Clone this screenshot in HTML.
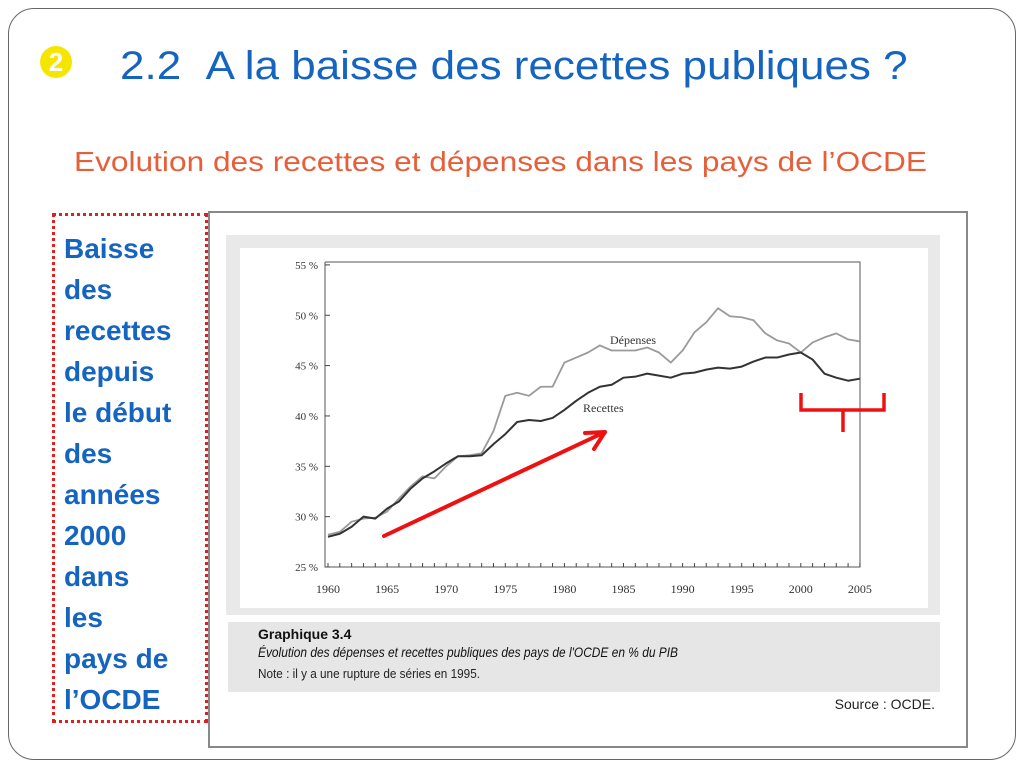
<!DOCTYPE html>
<html><head><meta charset="utf-8"><style>
body{margin:0;width:1024px;height:768px;background:#fff;font-family:"Liberation Sans",sans-serif;overflow:hidden;position:relative}
.abs{position:absolute}
</style></head><body>
<div class="abs" style="left:8px;top:8px;width:1006px;height:750px;border:1px solid #666;border-radius:26px"></div>
<div class="abs" style="left:40px;top:46px;width:32px;height:32px;border-radius:50%;background:#f5e600;color:#fff;font-weight:bold;font-size:26px;text-align:center;line-height:32px">2</div>
<div class="abs" style="left:120px;top:44px;font-size:40px;color:#1565c0;white-space:nowrap;transform:scaleX(1.1);transform-origin:left">2.2&nbsp;&nbsp;A la baisse des recettes publiques ?</div>
<div class="abs" style="left:74px;top:146px;font-size:28px;color:#e5603a;white-space:nowrap;transform:scaleX(1.13);transform-origin:left">Evolution des recettes et dépenses dans les pays de l’OCDE</div>
<div class="abs" style="left:52px;top:213px;width:156px;height:510px;border:3px dotted #e02020;box-sizing:border-box;padding:12px 0 0 9px;color:#1565c0;font-weight:bold;font-size:28px;line-height:41px;white-space:nowrap">Baisse<br>des<br>recettes<br>depuis<br>le début<br>des<br>années<br>2000<br>dans<br>les<br>pays de<br>l’OCDE</div>
<div class="abs" style="left:208px;top:211px;width:756px;height:533px;border:2px solid #888;background:#fff"></div>
<svg class="abs" style="left:0;top:0" width="1024" height="768">
<rect x="226" y="235" width="714" height="380" fill="#e9e9e9"/>
<rect x="240" y="248" width="688" height="360" fill="#fff"/>
<rect x="228" y="622" width="712" height="70" fill="#e6e6e6"/>
<text x="258" y="639" font-size="14" font-weight="bold" fill="#111">Graphique 3.4</text>
<text x="258" y="657" font-size="14" font-style="italic" fill="#111" textLength="420" lengthAdjust="spacingAndGlyphs">Évolution des dépenses et recettes publiques des pays de l'OCDE en % du PIB</text>
<text x="258" y="678" font-size="13" fill="#222" textLength="222" lengthAdjust="spacingAndGlyphs">Note : il y a une rupture de séries en 1995.</text>
<text x="935" y="709" font-size="14" fill="#222" text-anchor="end">Source : OCDE.</text>
<g id="axes"></g>
<g id="series"></g>
<path d="M384,536 L605,432 M605,432 L585,433 M605,432 L594,449" stroke="#ee1111" stroke-width="4" fill="none" stroke-linecap="round"/>
<path d="M801,393 L801,410 L884,410 L884,393 M843,410 L843,432" stroke="#ee1111" stroke-width="3.5" fill="none"/>
</svg>
<script>
const years=[];for(let y=1960;y<=2005;y++)years.push(y);
const recettes=[28,28.3,29,30,29.8,30.8,31.5,32.8,33.8,34.5,35.3,36,36,36.1,37.2,38.2,39.4,39.6,39.5,39.8,40.6,41.5,42.3,42.9,43.1,43.8,43.9,44.2,44,43.8,44.2,44.3,44.6,44.8,44.7,44.9,45.4,45.8,45.8,46.1,46.3,45.6,44.2,43.8,43.5,43.7];
const depenses=[28.2,28.5,29.5,29.8,29.9,30.5,31.8,33,34,33.8,35,36,36.1,36.3,38.5,42,42.3,42,42.9,42.9,45.3,45.8,46.3,47,46.5,46.5,46.5,46.8,46.3,45.3,46.5,48.3,49.3,50.7,49.9,49.8,49.5,48.2,47.5,47.2,46.3,47.3,47.8,48.2,47.6,47.4];
const yTicks=[25,30,35,40,45,50,55];
const xTicks=[1960,1965,1970,1975,1980,1985,1990,1995,2000,2005];
const X=y=>328+(y-1960)*11.82, Y=v=>567-(v-25)*10.07;
const NS="http://www.w3.org/2000/svg";
const ax=document.getElementById('axes'), se=document.getElementById('series');
function mk(tag,at,p){const e=document.createElementNS(NS,tag);for(const k in at)e.setAttribute(k,at[k]);p.appendChild(e);return e;}
let e=mk('path',{d:`M325,262 L325,567 L860,567 L860,262 L325,262`,stroke:'#555','stroke-width':1,fill:'none'},ax);


yTicks.forEach(v=>{
 let t=mk('line',{x1:325,x2:330,y1:Y(v),y2:Y(v),stroke:'#444'},ax);
 
 
 let l=mk('text',{x:318,y:Y(v)+4,'font-size':11,'text-anchor':'end',fill:'#333','font-family':'Liberation Serif'},ax);l.textContent=v+' %';
 
 
});
years.forEach(y=>{let t=mk('line',{x1:X(y),x2:X(y),y1:563,y2:567,stroke:'#444'},ax);
 
 });
xTicks.forEach(y=>{let l=mk('text',{x:X(y),y:593,'font-size':12,'text-anchor':'middle',fill:'#333','font-family':'Liberation Serif'},ax);l.textContent=y;
 
 });
function line(data,col,w,name){let p=mk('polyline',{points:data.map((v,i)=>X(years[i])+','+Y(v)).join(' '),stroke:col,'stroke-width':w,fill:'none','stroke-linejoin':'round'},se);
 
 }
line(depenses,'#9a9a9a',1.8,'depenses-line');
line(recettes,'#333',2,'recettes-line');
let a=mk('text',{x:610,y:344,'font-size':12,fill:'#333','font-family':'Liberation Serif'},se);a.textContent='Dépenses';


let b=mk('text',{x:583,y:412,'font-size':12,fill:'#333','font-family':'Liberation Serif'},se);b.textContent='Recettes';


</script>
</body></html>
